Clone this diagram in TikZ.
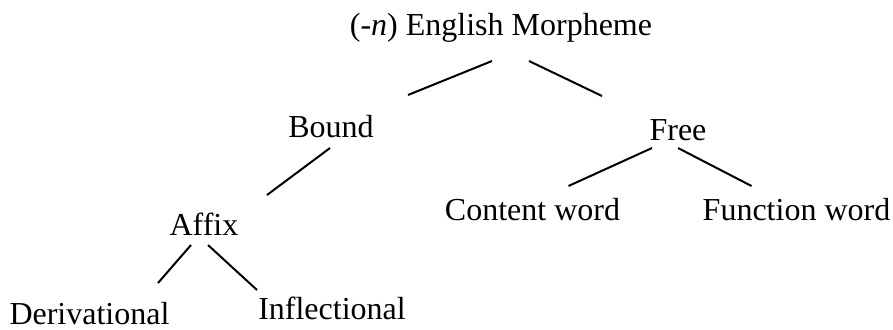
\documentclass[tikz,border=0pt]{standalone}
\usepackage{fontspec}
\setmainfont{Liberation Serif}
\usetikzlibrary{calc}

\begin{document}
\begin{tikzpicture}[
    x = 0.75pt, y = -0.75pt,
    every node/.style       = {inner sep=0pt, anchor=base, font=\fontsize{24}{28}\selectfont},
    branch/.style           = {line width=1.5pt}
    ]
      \useasboundingbox (0,0) rectangle (893,329);
      % nodes ----------------------------------------------------
      \node (root)  at (501,35)   {(-\textit{n}) English Morpheme};
      \node (bound) at (331,137)  {Bound};
      \node (free)  at (678,140)  {Free};
      \node (affix) at (204,235)  {Affix};
      \node (cont)  at (532.5,220) {Content word};
      \node (func)  at (796.5,220) {Function word};
      \node (deriv) at (89.5,324) {Derivational};
      \node (infl)  at (332,319)  {Inflectional};

      % branches -------------------------------------------------
      \draw[branch] ($(root.base)+(-9,26)$)  -- ($(bound.base)+(77,-42)$);
      \draw[branch] ($(root.base)+(28,26)$)  -- ($(free.base)+(-76,-44)$);
      \draw[branch] ($(bound.base)+(-1,11)$) -- ($(affix.base)+(63,-40)$);
      \draw[branch] ($(free.base)+(-26,8)$)  -- ($(cont.base)+(36,-34)$);
      \draw[branch] ($(free.base)+(0,8)$)    -- ($(func.base)+(-45,-34)$);
      \draw[branch] ($(affix.base)+(-13,10)$) -- ($(deriv.base)+(68.5,-41)$);
      \draw[branch] ($(affix.base)+(4,10)$)  -- ($(infl.base)+(-75,-29)$);
\end{tikzpicture}
\end{document}
